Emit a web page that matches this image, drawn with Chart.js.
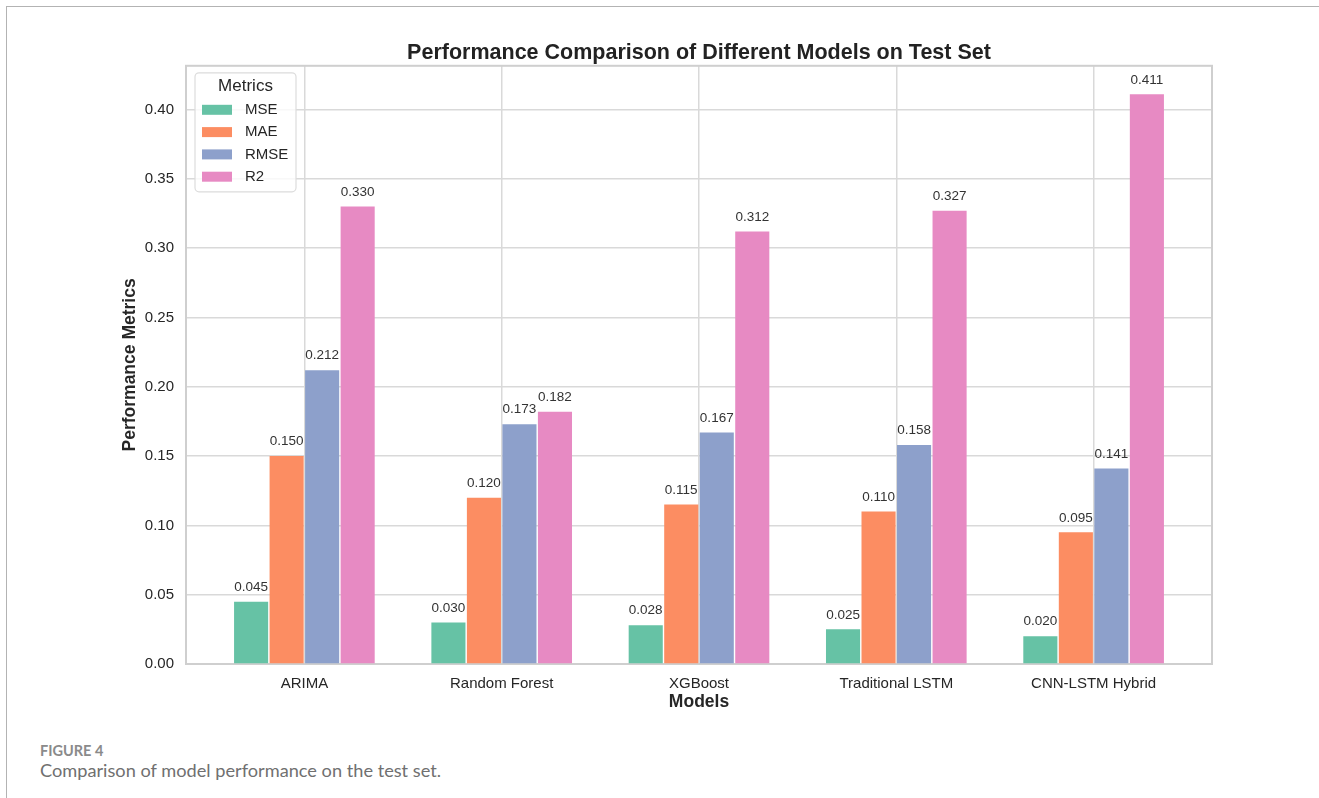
<!DOCTYPE html>
<html>
<head>
    <title>Model Performance</title>
    <style>
        body {
            margin: 0;
            background: white;
            width: 1319px;
            height: 798px;
            overflow: hidden;
            position: relative;
        }
        .frame {
            position: absolute;
            left: 6px;
            top: 6px;
            right: -20px;
            bottom: -20px;
            border: 1.5px solid #b3b3b3;
        }
        #perfChart {
            position: absolute;
            left: 0;
            top: 0;
        }
        .fig-label {
            position: absolute;
            left: 40px;
            top: 744px;
            font-family: Lato, sans-serif;
            font-weight: bold;
            font-size: 14.5px;
            line-height: 1;
            color: #8a8a8a;
        }
        .fig-caption {
            position: absolute;
            left: 40px;
            top: 761px;
            font-family: Lato, sans-serif;
            font-size: 18.2px;
            line-height: 1;
            color: #707070;
        }
    </style>
</head>
<body>
    <div class="frame"></div>
    <canvas id="perfChart" width="1319" height="720"></canvas>
    <div class="fig-label">FIGURE 4</div>
    <div class="fig-caption">Comparison of model performance on the test set.</div>

    <script src="https://cdn.jsdelivr.net/npm/chart.js"></script>
    <script>
        const models = ['ARIMA', 'Random Forest', 'XGBoost', 'Traditional LSTM', 'CNN-LSTM Hybrid'];
        const metrics = ['MSE', 'MAE', 'RMSE', 'R2'];
        const mse = [0.045, 0.030, 0.028, 0.025, 0.020];
        const mae = [0.150, 0.120, 0.115, 0.110, 0.095];
        const rmse = [0.212, 0.173, 0.167, 0.158, 0.141];
        const r2 = [0.330, 0.182, 0.312, 0.327, 0.411];
        const yTicks = [0.00, 0.05, 0.10, 0.15, 0.20, 0.25, 0.30, 0.35, 0.40];
        const colors = ['#66c2a5', '#fc8d62', '#8da0cb', '#e78ac3'];

        const series = [mse, mae, rmse, r2];
        const gridColor = '#d9d9d9';

        Chart.defaults.font.family = "'Liberation Sans', Arial, sans-serif";
        Chart.defaults.color = '#262626';

        // light grey box round the plot area
        const framePlugin = {
            id: 'frame',
            beforeDatasetsDraw(chart) {
                const a = chart.chartArea;
                const ctx = chart.ctx;
                ctx.save();
                ctx.strokeStyle = '#cfcfcf';
                ctx.lineWidth = 2;
                ctx.strokeRect(a.left, a.top, a.right - a.left, a.bottom - a.top);
                ctx.restore();
            }
        };

        // value over each bar, then the legend box in the upper left
        const labelsPlugin = {
            id: 'barLabels',
            afterDatasetsDraw(chart) {
                const ctx = chart.ctx;
                ctx.save();
                ctx.font = "13.5px 'Liberation Sans', Arial, sans-serif";
                ctx.fillStyle = '#333333';
                ctx.textAlign = 'center';
                ctx.textBaseline = 'middle';
                chart.data.datasets.forEach((ds, d) => {
                    chart.getDatasetMeta(d).data.forEach((bar, i) => {
                        ctx.fillText(series[d][i].toFixed(3), bar.x, bar.y - 14.5);
                    });
                });

                const a = chart.chartArea;
                const bx = a.left + 9, by = a.top + 7, bw = 101, bh = 119;
                ctx.beginPath();
                ctx.roundRect(bx, by, bw, bh, 4);
                ctx.fillStyle = 'rgba(255,255,255,0.8)';
                ctx.fill();
                ctx.strokeStyle = '#dcdcdc';
                ctx.lineWidth = 1.2;
                ctx.stroke();

                ctx.fillStyle = '#262626';
                ctx.font = "17px 'Liberation Sans', Arial, sans-serif";
                ctx.fillText('Metrics', bx + bw / 2, by + 14);
                ctx.font = "15px 'Liberation Sans', Arial, sans-serif";
                ctx.textAlign = 'left';
                metrics.forEach((m, i) => {
                    const cy = by + 37 + i * 22.3;
                    ctx.fillStyle = colors[i];
                    ctx.fillRect(bx + 7, cy - 5, 30, 10);
                    ctx.fillStyle = '#262626';
                    ctx.fillText(m, bx + 50, cy);
                });
                ctx.restore();
            }
        };

        const ctx = document.getElementById('perfChart').getContext('2d');
        new Chart(ctx, {
            type: 'bar',
            data: {
                datasets: metrics.map((m, d) => ({
                    label: m,
                    data: models.map((name, i) => ({ x: i, y: series[d][i] })),
                    backgroundColor: colors[d],
                    borderWidth: 0,
                    categoryPercentage: 0.72,
                    barPercentage: 0.96
                }))
            },
            options: {
                responsive: false,
                animation: false,
                layout: {
                    padding: { left: 0, right: 107, top: 0, bottom: 0 }
                },
                plugins: {
                    legend: { display: false },
                    tooltip: { enabled: false },
                    title: {
                        display: true,
                        fullSize: false,
                        text: 'Performance Comparison of Different Models on Test Set',
                        color: '#222222',
                        font: { size: 21.5, weight: 'bold' },
                        padding: { top: 40, bottom: 0 }
                    }
                },
                scales: {
                    x: {
                        type: 'linear',
                        min: -0.6,
                        max: 4.6,
                        offset: false,
                        afterBuildTicks: s => { s.ticks = models.map((m, i) => ({ value: i })); },
                        afterFit: s => { s.height = 56; },
                        ticks: {
                            callback: v => models[v],
                            font: { size: 15 },
                            padding: 11,
                            autoSkip: false,
                            maxRotation: 0
                        },
                        grid: { color: gridColor, lineWidth: 1.5, drawTicks: false, offset: false },
                        border: { display: false },
                        title: {
                            display: true,
                            text: 'Models',
                            font: { size: 17.5, weight: 'bold' },
                            padding: { top: 0, bottom: 7 }
                        }
                    },
                    y: {
                        min: 0,
                        max: 0.4316,
                        afterBuildTicks: s => { s.ticks = yTicks.map(v => ({ value: v })); },
                        afterFit: s => { s.width = 186; },
                        ticks: {
                            callback: v => v.toFixed(2),
                            font: { size: 15 },
                            padding: 12
                        },
                        grid: { color: gridColor, lineWidth: 1.5, drawTicks: false },
                        border: { display: false },
                        title: {
                            display: true,
                            text: 'Performance Metrics',
                            font: { size: 17.5, weight: 'bold' },
                            padding: { top: 119.5, bottom: 0 }
                        }
                    }
                }
            },
            plugins: [framePlugin, labelsPlugin]
        });
    </script>
</body>
</html>
